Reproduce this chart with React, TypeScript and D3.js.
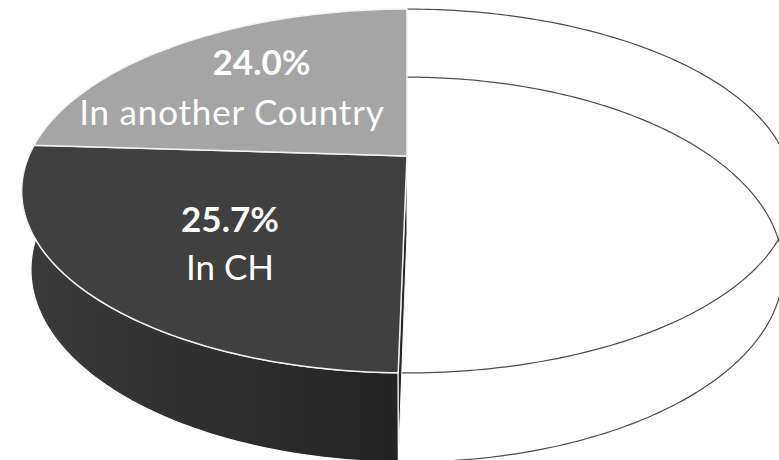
import { useEffect, useRef } from 'react';
import * as d3 from 'd3';

// slices in drawing order, clockwise from 12 o'clock
const categories = ['Other', 'In CH', 'In another Country'];
const shares = [50.3, 25.7, 24.0];
const showLabel = [false, true, true];

const WIDTH = 779;
const HEIGHT = 460;

// perspective camera for the 3D pie
const elev = (27.6 * Math.PI) / 180;
const sn = Math.sin(elev);
const cs = Math.cos(elev);
const dist = 4.607;
const focal = 1742;
const depth = 0.2366;
const cx = 407;
const cy = 156;

// label placement per slice: [line1 x, line1 baseline, line2 x, line2 baseline]
const labelPos: Record<string, [number, number, number, number]> = {
  'In CH': [230, 232, 230, 280],
  'In another Country': [261.5, 75, 231.5, 125],
};

const project = (theta: number, z: number, r = 1): [number, number] => {
  const x = r * Math.cos(theta);
  const y = r * Math.sin(theta);
  const up = y * sn + z * cs;
  const zc = y * cs + dist - z * sn;
  return [cx + (focal * x) / zc, cy - (focal * up) / zc];
};

const arcPoints = (t0: number, t1: number, z: number) => {
  const n = Math.max(2, Math.ceil(Math.abs(t1 - t0) * 60));
  return d3.range(n + 1).map((i) => project(t0 + ((t1 - t0) * i) / n, z));
};

export default function App() {
  const svgRef = useRef<SVGSVGElement>(null);

  useEffect(() => {
    if (!svgRef.current) return;
    const svg = d3.select(svgRef.current);
    svg.selectAll('*').remove();

    const defs = svg.append('defs');
    const grad = defs
      .append('linearGradient')
      .attr('id', 'wallGrad')
      .attr('gradientUnits', 'userSpaceOnUse')
      .attr('x1', 20)
      .attr('x2', 405)
      .attr('y1', 0)
      .attr('y2', 0);
    grad.append('stop').attr('offset', '0%').attr('stop-color', '#3b3b3b');
    grad.append('stop').attr('offset', '100%').attr('stop-color', '#232323');

    const pie = d3
      .pie<number>()
      .value((d) => d)
      .sort(null);
    // d3 angle runs clockwise from top; convert to math angle (y pointing away)
    const arcs = pie(shares).map((a, i) => ({
      name: categories[i],
      t0: Math.PI / 2 - a.startAngle,
      t1: Math.PI / 2 - a.endAngle,
    }));

    const line = d3.line();
    const poly = (pts: [number, number][]) => line(pts) + 'Z';

    const fills: Record<string, string> = {
      'In CH': '#404040',
      'In another Country': '#a5a5a5',
    };

    // open (unfilled) slice: outline of top and bottom rims
    const open = arcs[0];
    [0, -depth].forEach((z) => {
      svg
        .append('path')
        .attr('d', line(arcPoints(open.t0, open.t1, z)))
        .attr('fill', 'none')
        .attr('stroke', '#4d4d4d')
        .attr('stroke-width', 1.2);
    });

    // dark slice outer wall
    const dark = arcs[1];
    const wall = [
      ...arcPoints(dark.t0, dark.t1, 0),
      ...arcPoints(dark.t1, dark.t0, -depth),
    ];
    svg
      .append('path')
      .attr('d', poly(wall))
      .attr('fill', 'url(#wallGrad)')
      .attr('stroke', '#ffffff')
      .attr('stroke-width', 1.2);

    // dark slice cut face facing the open slice
    const cTop = project(0, 0, 0);
    const cBot = project(0, -depth, 0);
    svg
      .append('path')
      .attr('d', poly([cTop, project(dark.t0, 0), project(dark.t0, -depth), cBot]))
      .attr('fill', '#262626')
      .attr('stroke', '#ffffff')
      .attr('stroke-width', 1);

    // top faces
    arcs.slice(1).forEach((a) => {
      svg
        .append('path')
        .attr('d', poly([cTop, ...arcPoints(a.t0, a.t1, 0)]))
        .attr('fill', fills[a.name])
        .attr('stroke', '#f2f2f2')
        .attr('stroke-width', 1.5)
        .attr('stroke-linejoin', 'round');
    });

    // labels
    arcs.forEach((a, i) => {
      if (!showLabel[i]) return;
      const p = labelPos[a.name];
      const g = svg
        .append('g')
        .attr('fill', '#ffffff')
        .attr('font-family', 'Lato, sans-serif')
        .attr('text-anchor', 'middle');
      g.append('text')
        .attr('x', p[0])
        .attr('y', p[1])
        .attr('font-size', 35)
        .attr('font-weight', 700)
        .text(`${shares[i].toFixed(1)}%`);
      const spacing = a.name.length > 8 ? 0.8 : 0;
      g.append('text')
        .attr('x', p[2] + spacing / 2)
        .attr('y', p[3])
        .attr('font-size', 35)
        .attr('font-weight', 400)
        .attr('letter-spacing', spacing)
        .text(a.name);
    });
  }, []);

  return (
    <svg
      ref={svgRef}
      width={WIDTH}
      height={HEIGHT}
      style={{ position: 'absolute', left: 0, top: 0, background: '#ffffff' }}
    />
  );
}
